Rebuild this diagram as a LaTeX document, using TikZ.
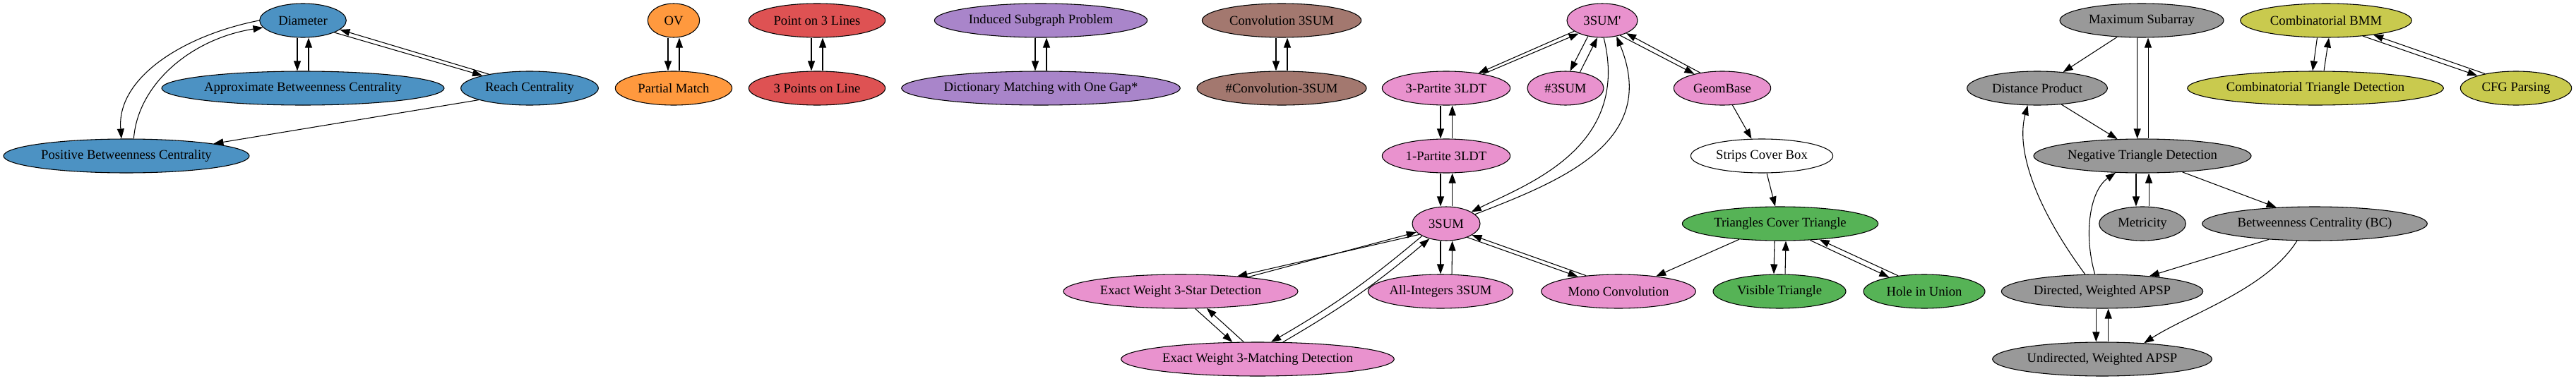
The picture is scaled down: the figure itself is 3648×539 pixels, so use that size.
\documentclass[tikz,border=0pt]{standalone}
\usepackage{fontspec}
\newfontfamily\gvfont{Liberation Serif}[Ligatures=TeXOff]
\usetikzlibrary{shapes.geometric,arrows.meta}
\definecolor{cblue}{HTML}{4C92C3}
\definecolor{corange}{HTML}{FF993E}
\definecolor{cred}{HTML}{DE5253}
\definecolor{cpurple}{HTML}{A985CA}
\definecolor{cbrown}{HTML}{A3786F}
\definecolor{cpink}{HTML}{E992CE}
\definecolor{cgray}{HTML}{999999}
\definecolor{colive}{HTML}{C9CA4E}
\definecolor{cgreen}{HTML}{56B356}
\begin{document}
\begin{tikzpicture}[x=0.75pt,y=-0.75pt,
  gv/.style={ellipse,draw=black,line width=0.8pt,inner sep=0pt,minimum height=36pt,
    font=\gvfont\fontsize{14pt}{16pt}\selectfont},
  e/.style={draw=black,line width=0.8pt,-{Triangle[length=10.5pt,width=7.5pt]}}]
\useasboundingbox (0,0) rectangle (3648,539);
% blue
\node[gv,fill=cblue,minimum width=92pt] (diam) at (429,29) {Diameter};
\node[gv,fill=cblue,minimum width=300pt] (abc) at (429,125) {Approximate Betweenness Centrality};
\node[gv,fill=cblue,minimum width=146pt] (reach) at (750,125) {Reach Centrality};
\node[gv,fill=cblue,minimum width=261pt] (pbc) at (179,221) {Positive Betweenness Centrality};
% orange, red, purple, brown
\node[gv,fill=corange,minimum width=55pt] (ov) at (954,29) {OV};
\node[gv,fill=corange,minimum width=124pt] (pm) at (954,125) {Partial Match};
\node[gv,fill=cred,minimum width=145pt] (p3l) at (1157,29) {Point on 3 Lines};
\node[gv,fill=cred,minimum width=145pt] (pts) at (1157,125) {3 Points on Line};
\node[gv,fill=cpurple,minimum width=226pt] (isp) at (1474,29) {Induced Subgraph Problem};
\node[gv,fill=cpurple,minimum width=296pt] (dict) at (1474,125) {Dictionary Matching with One Gap*};
\node[gv,fill=cbrown,minimum width=169pt] (conv) at (1815,29) {Convolution 3SUM};
\node[gv,fill=cbrown,minimum width=180pt] (nconv) at (1815,125) {\#Convolution-3SUM};
% pink
\node[gv,fill=cpink,minimum width=75pt] (s3p) at (2269,29) {3SUM'};
\node[gv,fill=cpink,minimum width=136pt] (p3) at (2048,125) {3-Partite 3LDT};
\node[gv,fill=cpink,minimum width=81pt] (ns) at (2217,125) {\#3SUM};
\node[gv,fill=cpink,minimum width=103pt] (geom) at (2439,125) {GeomBase};
\node[gv,fill=cpink,minimum width=136pt] (p1) at (2048,221) {1-Partite 3LDT};
\node[gv,fill=white,minimum width=151pt] (strips) at (2495,221) {Strips Cover Box};
\node[gv,fill=cpink,minimum width=72pt] (s3) at (2048,317) {3SUM};
\node[gv,fill=cpink,minimum width=249pt] (star) at (1672,413) {Exact Weight 3-Star Detection};
\node[gv,fill=cpink,minimum width=154pt] (allint) at (2040,413) {All-Integers 3SUM};
\node[gv,fill=cpink,minimum width=164pt] (mono) at (2292,413) {Mono Convolution};
\node[gv,fill=cpink,minimum width=290pt] (match) at (1781,509) {Exact Weight 3-Matching Detection};
% green
\node[gv,fill=cgreen,minimum width=208pt] (tct) at (2521,317) {Triangles Cover Triangle};
\node[gv,fill=cgreen,minimum width=141pt] (vis) at (2520,413) {Visible Triangle};
\node[gv,fill=cgreen,minimum width=129pt] (hole) at (2725,413) {Hole in Union};
% gray
\node[gv,fill=cgray,minimum width=174pt] (maxs) at (3033,29) {Maximum Subarray};
\node[gv,fill=cgray,minimum width=149pt] (dist) at (2885,125) {Distance Product};
\node[gv,fill=cgray,minimum width=231pt] (ntd) at (3034,221) {Negative Triangle Detection};
\node[gv,fill=cgray,minimum width=92pt] (metr) at (3034,317) {Metricity};
\node[gv,fill=cgray,minimum width=239pt] (bc) at (3278,317) {Betweenness Centrality (BC)};
\node[gv,fill=cgray,minimum width=214pt] (dapsp) at (2977,413) {Directed, Weighted APSP};
\node[gv,fill=cgray,minimum width=233pt] (uapsp) at (2977,509) {Undirected, Weighted APSP};
% olive
\node[gv,fill=colive,minimum width=182pt] (cbmm) at (3294,29) {Combinatorial BMM};
\node[gv,fill=colive,minimum width=272pt] (ctd) at (3279,125) {Combinatorial Triangle Detection};
\node[gv,fill=colive,minimum width=118pt] (cfg) at (3563,125) {CFG Parsing};

% ---- edges: blue
\draw[e] ([xshift=-6pt]diam.south) -- ([xshift=-6pt]abc.north);
\draw[e] ([xshift=6pt]abc.north) -- ([xshift=6pt]diam.south);
\draw[e] (diam.180) .. controls (260,50) and (165,110) .. (pbc.106);
\draw[e] (pbc.67) .. controls (195,120) and (270,55) .. (diam.190);
\draw[e] (diam.-21) -- (reach.165);
\draw[e] (reach.161) -- (diam.-14.5);
\draw[e] (reach.193.4) -- (pbc.8.5);
% orange, red, purple, brown
\draw[e] ([xshift=-6pt]ov.south) -- ([xshift=-6pt]pm.north);
\draw[e] ([xshift=6pt]pm.north) -- ([xshift=6pt]ov.south);
\draw[e] ([xshift=-6pt]p3l.south) -- ([xshift=-6pt]pts.north);
\draw[e] ([xshift=6pt]pts.north) -- ([xshift=6pt]p3l.south);
\draw[e] ([xshift=-6pt]isp.south) -- ([xshift=-6pt]dict.north);
\draw[e] ([xshift=6pt]dict.north) -- ([xshift=6pt]isp.south);
\draw[e] ([xshift=-6pt]conv.south) -- ([xshift=-6pt]nconv.north);
\draw[e] ([xshift=6pt]nconv.north) -- ([xshift=6pt]conv.south);
% pink
\draw[e] (s3p.201.5) -- (p3.25.9);
\draw[e] (p3.21.2) -- (s3p.209.7);
\draw[e] (s3p.228) -- (ns.75);
\draw[e] (ns.48.8) -- (s3p.254);
\draw[e] (s3p.320.5) -- (geom.153.8);
\draw[e] (geom.145.6) -- (s3p.332.6);
\draw[e] (s3p.275) .. controls (2310,210) and (2160,262) .. (s3.25);
\draw[e] (s3.18.8) .. controls (2215,255) and (2350,200) .. (s3p.312.5);
\draw[e] ([xshift=-6pt]p3.south) -- ([xshift=-6pt]p1.north);
\draw[e] ([xshift=6.5pt]p1.north) -- ([xshift=6.5pt]p3.south);
\draw[e] ([xshift=-6pt]p1.south) -- ([xshift=-6pt]s3.north);
\draw[e] ([xshift=6.5pt]s3.north) -- ([xshift=6.5pt]p1.south);
\draw[e] ([xshift=-6pt]s3.south) -- ([xshift=0pt]allint.north);
\draw[e] ([xshift=12pt]allint.north) -- ([xshift=6.5pt]s3.south);
\draw[e] (s3.202) -- (star.15);
\draw[e] (star.12.5) -- (s3.196.3);
\draw[e] (s3.207.6) to[bend left=5] (match.52);
\draw[e] (match.34.4) to[bend right=5] (s3.222.9);
\draw[e] (star.310) -- (match.146.6);
\draw[e] (match.129) -- (star.327);
\draw[e] (s3.327.2) -- (mono.160);
\draw[e] (mono.154.6) -- (s3.336.4);
\draw[e] (geom.301) -- (strips.121.7);
\draw[e] (strips.286.5) -- (tct.106.7);
% green
\draw[e] (tct.201.7) -- (mono.22.6);
\draw[e] ([xshift=-6pt]tct.south) -- ([xshift=-6pt]vis.north);
\draw[e] ([xshift=6pt]vis.north) -- ([xshift=6pt]tct.south);
\draw[e] (tct.331) -- (hole.158);
\draw[e] (hole.149) -- (tct.338.8);
% gray
\draw[e] (maxs.214.9) -- (dist.32.3);
\draw[e] ([xshift=-4.8pt]maxs.south) -- ([xshift=-5.5pt]ntd.north);
\draw[e] ([xshift=6pt]ntd.north) -- ([xshift=6.75pt]maxs.south);
\draw[e] (dist.326.9) -- (ntd.146.7);
\draw[e] ([xshift=-6.8pt]ntd.south) -- ([xshift=-6.8pt]metr.north);
\draw[e] ([xshift=6.8pt]metr.north) -- ([xshift=6.8pt]ntd.south);
\draw[e] (ntd.338.5) -- (bc.157.9);
\draw[e] (bc.199) -- (dapsp.18.2);
\draw[e] (bc.224.6) .. controls (3210,410) and (3100,445) .. (uapsp.21.2);
\draw[e] (dapsp.135) .. controls (2880,290) and (2855,210) .. (dist.241.6);
\draw[e] (dapsp.113.6) .. controls (2950,330) and (2960,270) .. (ntd.212.5);
\draw[e] ([xshift=-6.5pt]dapsp.south) -- ([xshift=-6.5pt]uapsp.north);
\draw[e] ([xshift=6.5pt]uapsp.north) -- ([xshift=6.5pt]dapsp.south);
% olive
\draw[e] ([xshift=-9.4pt]cbmm.south) -- ([xshift=-3pt]ctd.north);
\draw[e] ([xshift=9pt]ctd.north) -- ([xshift=3pt]cbmm.south);
\draw[e] (cbmm.337.2) -- (cfg.162.2);
\draw[e] (cfg.155.3) -- (cbmm.343);
\end{tikzpicture}
\end{document}
